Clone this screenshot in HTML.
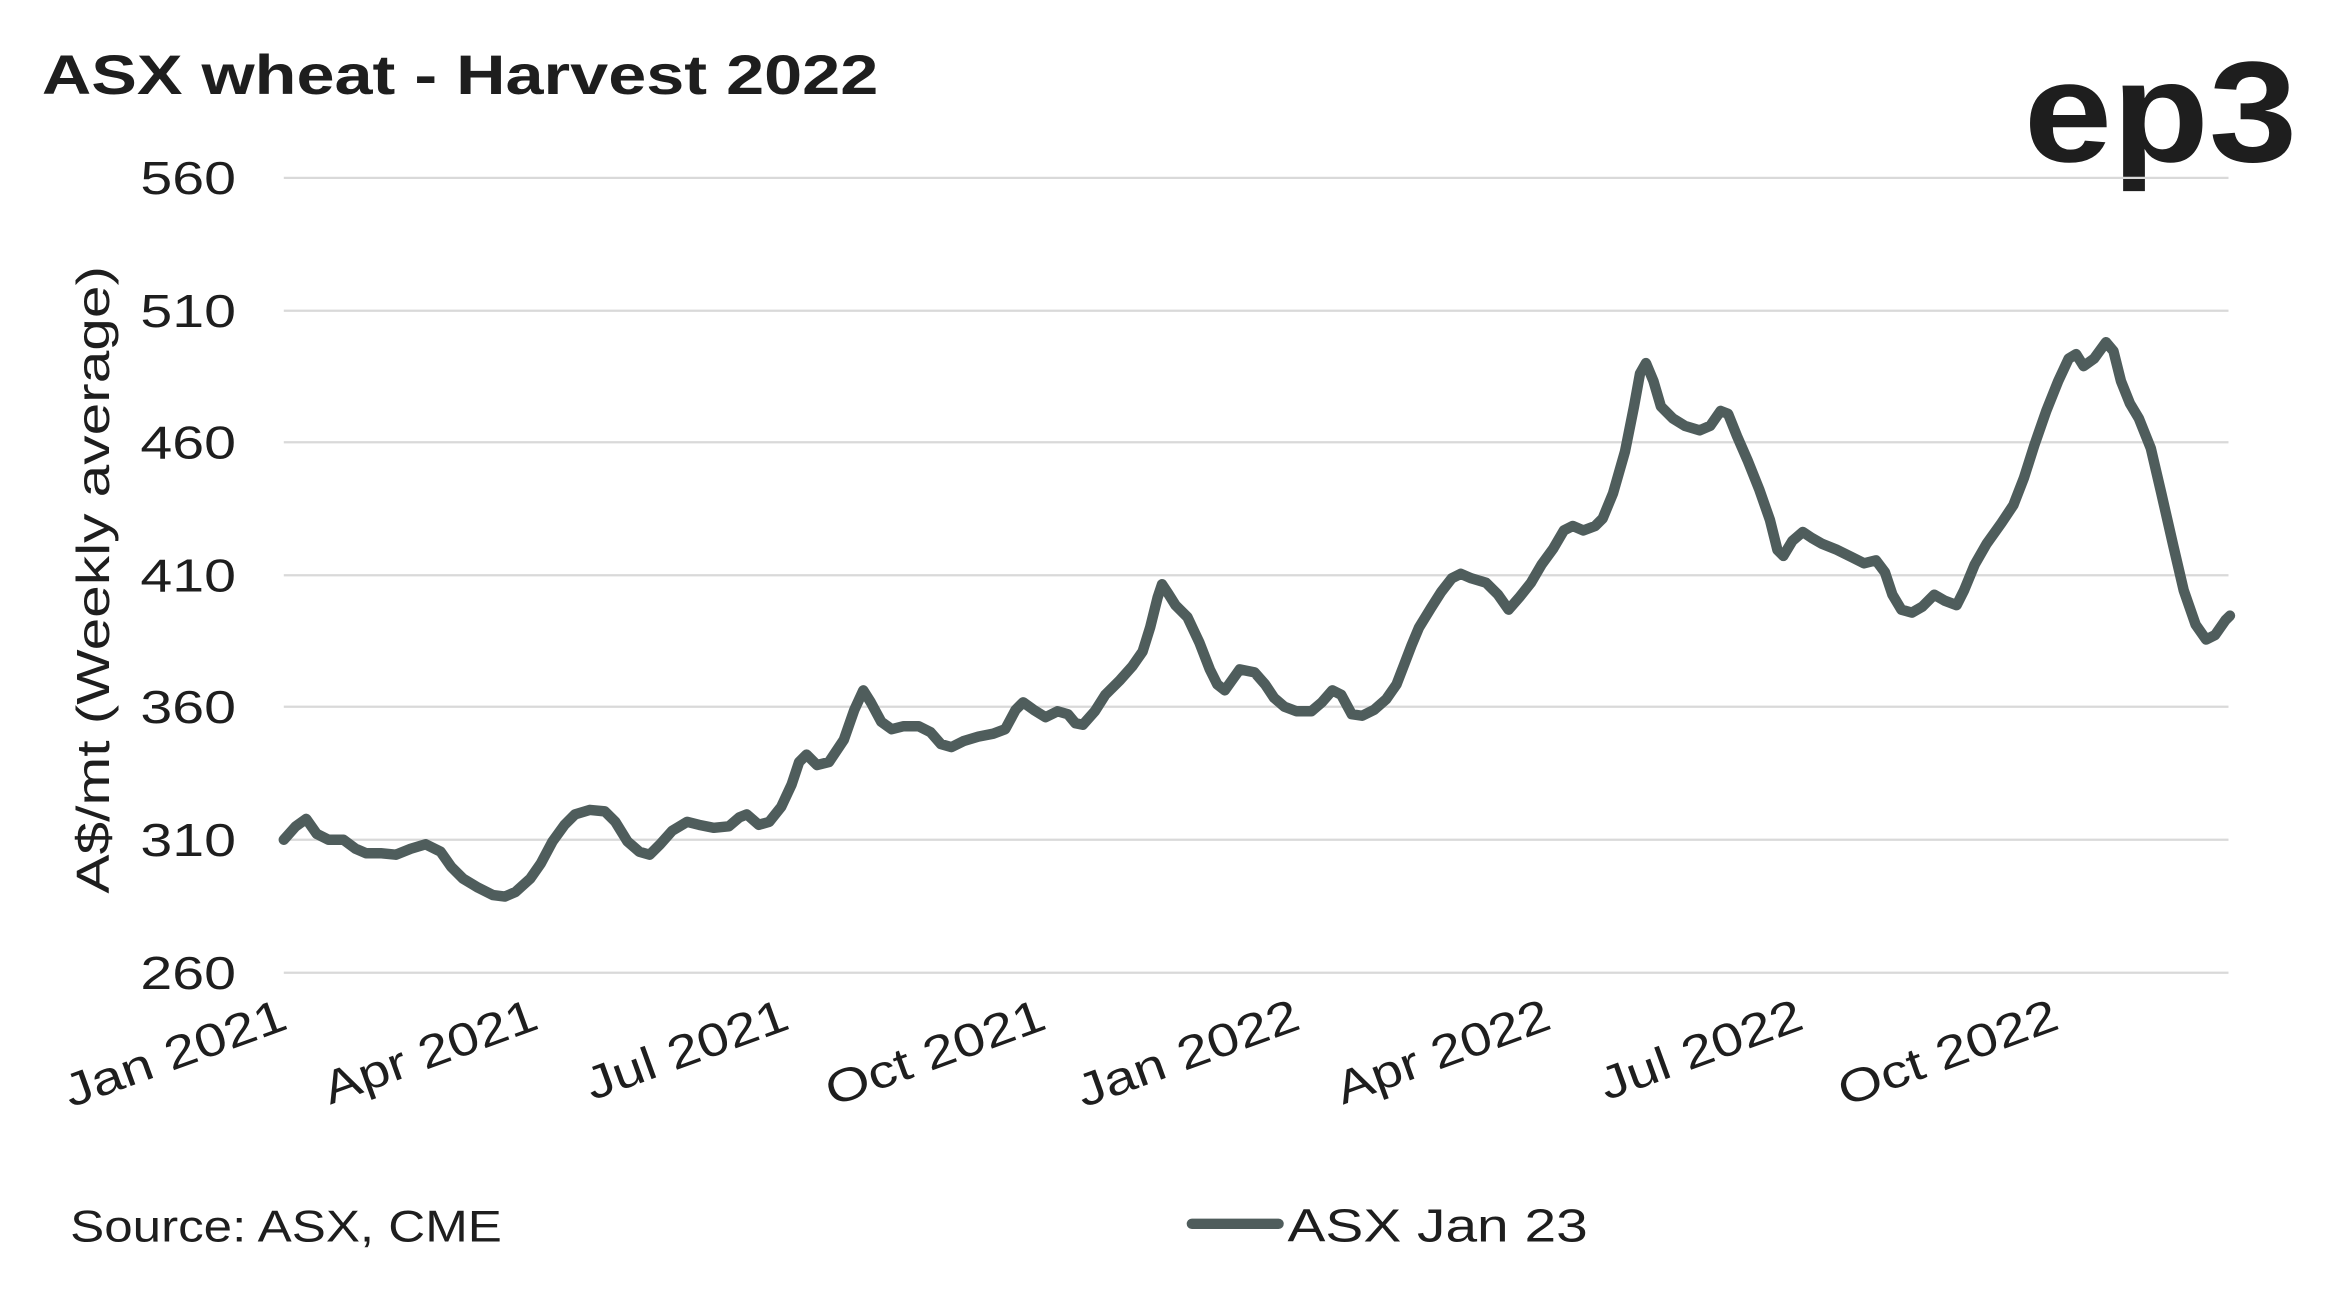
<!DOCTYPE html>
<html><head><meta charset="utf-8"><style>
html,body{margin:0;padding:0;background:#fff;}
svg{display:block;}
text{font-family:"Liberation Sans",sans-serif;fill:#1e1e1e;}
</style></head><body>
<svg width="2342" height="1303" viewBox="0 0 1568 872" preserveAspectRatio="none" xmlns="http://www.w3.org/2000/svg">
<rect width="1568" height="872" fill="#fff"/>
<text x="28" y="63" font-size="37" font-weight="bold" textLength="560" lengthAdjust="spacingAndGlyphs">ASX wheat - Harvest 2022</text>
<text x="1355" y="108" font-size="96" font-weight="bold" fill="#2a2a2a" textLength="183" lengthAdjust="spacingAndGlyphs">ep3</text>
<g stroke="#d9d9d9" stroke-width="1.5">
<line x1="190" x2="1492" y1="119" y2="119"/>
<line x1="190" x2="1492" y1="208" y2="208"/>
<line x1="190" x2="1492" y1="296" y2="296"/>
<line x1="190" x2="1492" y1="385" y2="385"/>
<line x1="190" x2="1492" y1="473" y2="473"/>
<line x1="190" x2="1492" y1="562" y2="562"/>
<line x1="190" x2="1492" y1="651" y2="651"/>
</g>
<g font-size="31">
<text x="94" y="130" textLength="64" lengthAdjust="spacingAndGlyphs">560</text>
<text x="94" y="219" textLength="64" lengthAdjust="spacingAndGlyphs">510</text>
<text x="94" y="307" textLength="64" lengthAdjust="spacingAndGlyphs">460</text>
<text x="94" y="396" textLength="64" lengthAdjust="spacingAndGlyphs">410</text>
<text x="94" y="484" textLength="64" lengthAdjust="spacingAndGlyphs">360</text>
<text x="94" y="573" textLength="64" lengthAdjust="spacingAndGlyphs">310</text>
<text x="94" y="662" textLength="64" lengthAdjust="spacingAndGlyphs">260</text>
</g>
<text transform="translate(73,598) rotate(-90)" font-size="31" textLength="420" lengthAdjust="spacingAndGlyphs">A$/mt (Weekly average)</text>
<g font-size="31">
<text transform="translate(194,688) rotate(-20) translate(-156,0)" textLength="156" lengthAdjust="spacingAndGlyphs">Jan 2021</text>
<text transform="translate(362,688) rotate(-20) translate(-150,0)" textLength="150" lengthAdjust="spacingAndGlyphs">Apr 2021</text>
<text transform="translate(530,688) rotate(-20) translate(-142,0)" textLength="142" lengthAdjust="spacingAndGlyphs">Jul 2021</text>
<text transform="translate(702,688) rotate(-20) translate(-154,0)" textLength="154" lengthAdjust="spacingAndGlyphs">Oct 2021</text>
<text transform="translate(872,688) rotate(-20) translate(-156,0)" textLength="156" lengthAdjust="spacingAndGlyphs">Jan 2022</text>
<text transform="translate(1040,688) rotate(-20) translate(-150,0)" textLength="150" lengthAdjust="spacingAndGlyphs">Apr 2022</text>
<text transform="translate(1209,688) rotate(-20) translate(-142,0)" textLength="142" lengthAdjust="spacingAndGlyphs">Jul 2022</text>
<text transform="translate(1380,688) rotate(-20) translate(-154,0)" textLength="154" lengthAdjust="spacingAndGlyphs">Oct 2022</text>
</g>
<polyline fill="none" stroke="#4f5d5c" stroke-width="7" stroke-linejoin="round" stroke-linecap="round" points="190,562 198,553 205,548 212,558 220,562 230,562 238,568 245,571 255,571 265,572 275,568 285,565 295,570 302,580 310,588 320,594 330,599 338,600 345,597 355,588 362,578 370,563 378,552 385,545 395,542 405,543 412,550 420,563 428,570 435,572 442,565 450,556 460,550 468,552 478,554 488,553 495,547 500,545 508,552 515,550 523,540 530,525 535,510 540,505 547,512 555,510 565,495 572,475 578,462 583,470 590,483 597,488 605,486 615,486 623,490 630,498 637,500 645,496 655,493 665,491 673,488 680,475 685,470 692,475 700,480 708,476 715,478 720,484 725,485 733,476 740,465 750,455 758,446 765,436 770,420 775,400 778,391 782,397 787,405 795,413 803,430 810,448 815,458 820,462 825,455 830,448 840,450 847,458 853,467 860,473 868,476 878,476 885,470 892,462 898,465 905,478 912,479 920,475 928,468 935,458 940,445 945,432 950,420 958,407 965,396 972,387 978,384 985,387 995,390 1003,398 1010,408 1017,400 1025,390 1032,378 1040,367 1047,355 1053,352 1060,355 1068,352 1073,347 1080,330 1088,302 1094,272 1098,250 1102,243 1107,255 1112,272 1120,280 1128,285 1138,288 1145,285 1152,275 1157,277 1163,292 1170,308 1178,328 1185,348 1190,368 1194,372 1200,362 1207,356 1213,360 1220,364 1230,368 1240,373 1248,377 1256,375 1262,383 1267,398 1273,408 1280,410 1287,406 1295,398 1302,402 1310,405 1315,395 1322,378 1330,364 1340,350 1348,338 1355,320 1362,298 1370,275 1378,255 1385,240 1390,237 1395,245 1402,240 1410,229 1415,235 1420,255 1426,270 1432,280 1440,300 1447,330 1455,365 1462,395 1470,418 1477,428 1483,425 1490,415 1493,412"/>
<text x="47" y="831" font-size="30" textLength="289" lengthAdjust="spacingAndGlyphs">Source: ASX, CME</text>
<line x1="798" x2="856" y1="819" y2="819" stroke="#4f5d5c" stroke-width="7" stroke-linecap="round"/>
<text x="862" y="831" font-size="31" textLength="201" lengthAdjust="spacingAndGlyphs">ASX Jan 23</text>
</svg>
</body></html>
